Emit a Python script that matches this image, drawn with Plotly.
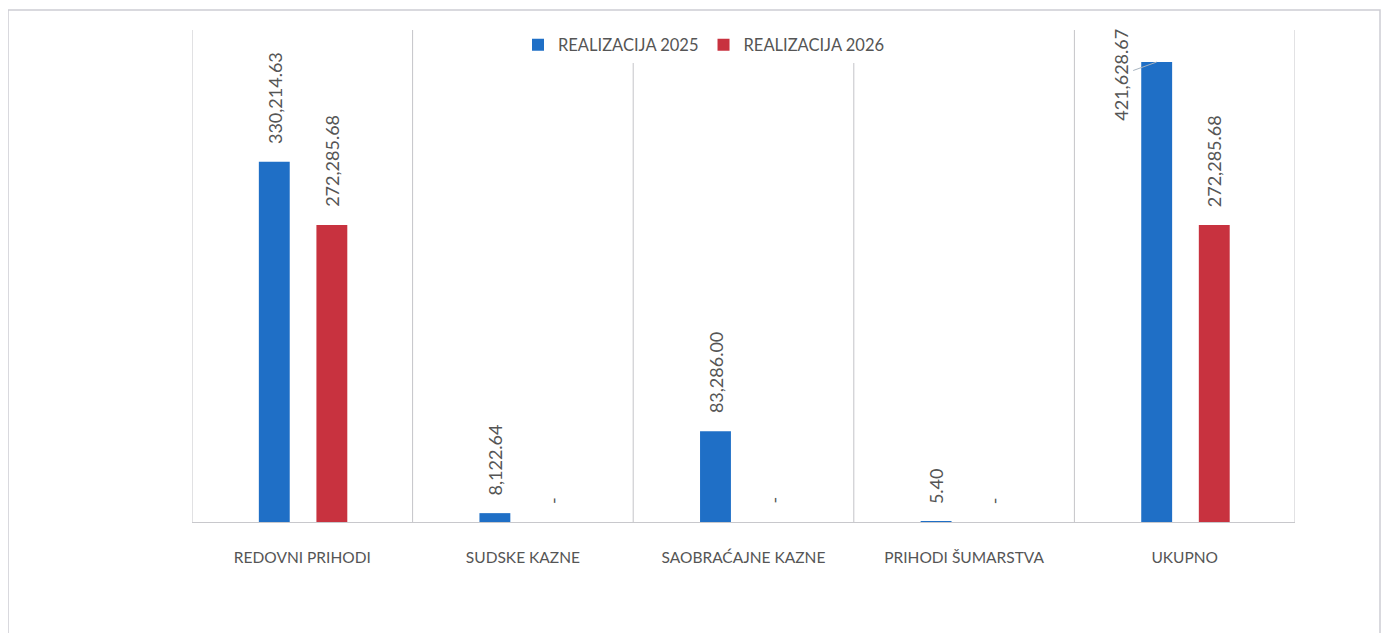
import plotly.graph_objects as go

categories = ["REDOVNI PRIHODI", "SUDSKE KAZNE", "SAOBRAĆAJNE KAZNE", "PRIHODI ŠUMARSTVA", "UKUPNO"]
series_names = ["REALIZACIJA 2025", "REALIZACIJA 2026"]
values_2025 = [330214.63, 8122.64, 83286.00, 5.40, 421628.67]
values_2026 = [272285.68, 0.0, 0.0, 0.0, 272285.68]

BLUE = "#1f6fc6"
RED = "#c8323f"
TXT = "#555555"
FONT = "Lato, Open Sans, sans-serif"

# page body has an 8px margin, so the figure is sized to fit inside it
OX, OY = 8, 8
W, H = 1389 - 2 * OX, 641 - 2 * OY
PL, PR, PT, PB = 192, 1295, 30, 522          # plot-area edges on the page
L, T = PL - OX, PT - OY
PW, PH = PR - PL, PB - PT
R, B = W - L - PW, H - T - PH

YMAX = 451000
BAR_W = 0.14
OFF = [-0.197, 0.064]

def fmt(v):
    return "-" if v == 0 else f"{v:,.2f}"

xs = list(range(len(categories)))
fig = go.Figure()
for name, vals, col, off in [(series_names[0], values_2025, BLUE, OFF[0]),
                              (series_names[1], values_2026, RED, OFF[1])]:
    fig.add_trace(go.Bar(x=xs, y=vals, name=name, marker_color=col,
                         width=BAR_W, offset=off, marker_line_width=0))

LBL = dict(family=FONT, size=18, color=TXT)
annotations = []
for vals, off in [(values_2025, OFF[0]), (values_2026, OFF[1])]:
    for i, v in enumerate(vals):
        xc = i + off + BAR_W / 2
        if vals is values_2025 and i == len(vals) - 1:
            annotations.append(dict(x=xc, y=v, xref="x", yref="y", text=fmt(v),
                                    textangle=-90, showarrow=True, arrowhead=0,
                                    arrowwidth=1, arrowcolor="#a8b4c0",
                                    ax=-36, ay=13, standoff=0, font=LBL))
        else:
            annotations.append(dict(x=xc, y=v, xref="x", yref="y", text=fmt(v),
                                    textangle=-90, showarrow=False,
                                    xanchor="center", yanchor="bottom", yshift=16,
                                    font=LBL))

shapes = []
for i in range(len(categories) + 1):
    shapes.append(dict(type="line", xref="x", yref="paper", x0=i - 0.5, x1=i - 0.5,
                       y0=0, y1=1, layer="below", line=dict(color="#c4c4c8", width=1)))
# outer chart border
shapes.append(dict(type="rect", xref="paper", yref="paper",
                   x0=(8 - PL) / PW, x1=(1380 - PL) / PW,
                   y0=(PB - 700) / PH, y1=(PB - 10) / PH,
                   line=dict(color="#cdcdd4", width=1.5)))

fig.update_layout(
    width=W, height=H,
    margin=dict(l=L, r=R, t=T, b=B),
    paper_bgcolor="white", plot_bgcolor="white",
    barmode="group",
    showlegend=True,
    legend=dict(orientation="h", x=(704 - PL) / PW, xanchor="center",
                y=(PB - 45) / PH, yanchor="middle",
                font=dict(family=FONT, size=16.5, color=TXT),
                itemwidth=30, bgcolor="white", tracegroupgap=0),
    xaxis=dict(tickmode="array", tickvals=xs, ticktext=categories,
               range=[-0.5, len(categories) - 0.5],
               showgrid=False, zeroline=False, showline=True,
               linecolor="#c8c8cc", linewidth=1, ticks="",
               ticklabelstandoff=21,
               tickfont=dict(family=FONT, size=15.5, color=TXT)),
    yaxis=dict(range=[0, YMAX], visible=False, showgrid=False, zeroline=False),
    annotations=annotations,
    shapes=shapes,
    font=dict(family=FONT, color=TXT),
)

fig.write_html("out.html")
